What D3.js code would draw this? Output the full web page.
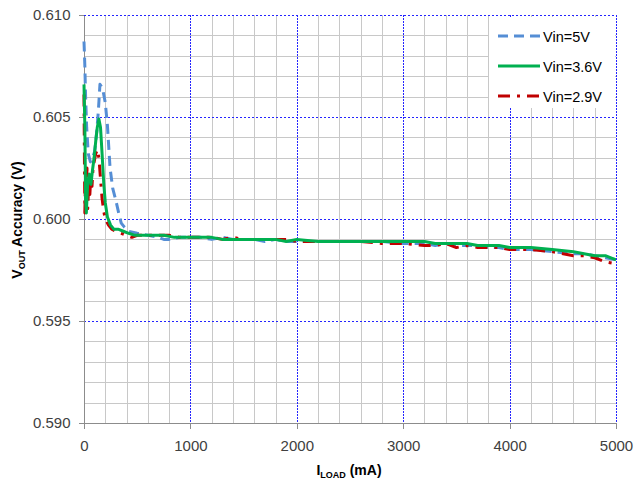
<!DOCTYPE html>
<html><head><meta charset="utf-8">
<script src="https://cdn.jsdelivr.net/npm/d3@7"></script>
<style>body{margin:0;background:#fff}svg{display:block;font-family:"Liberation Sans",Arial,sans-serif}</style>
</head><body><svg id="c" width="634" height="485"></svg>
<script>
// ---- data ----
const seriesNames = ["Vin=5V", "Vin=3.6V", "Vin=2.9V"];
const load5 = [0,8,15,25,40,60,80,100,120,135,150,175,200,220,245,270,300,330,350,380,420,500,600,700,750,800,900,1000,1100,1200,1300,1400,1500,1600,1700,1800,1900,2000,2200,2400,2600,2800,3000,3200,3300,3400,3500,3600,3700,3800,3900,4000,4200,4400,4600,4700,4800,4900,5000];
const vout5 = [0.6087,0.6075,0.6060,0.6045,0.6032,0.6028,0.6030,0.6033,0.6043,0.6053,0.6066,0.6064,0.6057,0.6046,0.6025,0.6015,0.6009,0.6002,0.5998,0.5996,0.5994,0.5993,0.5992,0.5991,0.5990,0.5990,0.5991,0.5991,0.5991,0.5990,0.5991,0.5990,0.5990,0.5990,0.5989,0.5990,0.5989,0.5989,0.5989,0.5989,0.5989,0.5989,0.5988,0.5988,0.5987,0.5988,0.5987,0.5987,0.5987,0.5986,0.5986,0.5985,0.5985,0.5984,0.5983,0.5983,0.5982,0.5981,0.5980];
const load36 = [0,8,15,22,35,50,65,80,95,110,125,140,155,170,185,200,220,250,280,320,370,420,480,550,650,750,850,950,1000,1100,1200,1300,1400,1500,1600,1700,1800,1900,2000,2200,2400,2600,2800,3000,3200,3300,3400,3500,3600,3700,3800,3900,4000,4200,4400,4600,4700,4800,4900,5000];
const vout36 = [0.6066,0.6045,0.6010,0.6003,0.6018,0.6022,0.6017,0.6024,0.6030,0.6038,0.6045,0.6049,0.6045,0.6032,0.6018,0.6008,0.6001,0.5997,0.5995,0.5995,0.5994,0.5993,0.5992,0.5992,0.5992,0.5992,0.5991,0.5991,0.5991,0.5991,0.5991,0.5990,0.5990,0.5990,0.5990,0.5990,0.5990,0.5989,0.5990,0.5989,0.5989,0.5989,0.5989,0.5989,0.5989,0.5988,0.5988,0.5988,0.5988,0.5987,0.5987,0.5987,0.5986,0.5986,0.5985,0.5984,0.5983,0.5982,0.5982,0.5980];
const load29 = [0,4,8,14,20,28,35,45,55,65,75,85,95,110,125,140,155,170,185,200,230,260,300,350,400,450,500,600,700,800,900,1000,1100,1200,1300,1400,1500,1600,1700,1800,1900,2000,2200,2400,2600,2800,3000,3200,3300,3400,3500,3600,3700,3800,3900,4000,4200,4400,4600,4700,4800,4900,5000];
const vout29 = [0.6061,0.6030,0.6003,0.6020,0.6008,0.6025,0.6005,0.6018,0.6012,0.6022,0.6016,0.6025,0.6028,0.6032,0.6034,0.6030,0.6020,0.6010,0.6004,0.6000,0.5997,0.5995,0.5994,0.5993,0.5992,0.5991,0.5992,0.5992,0.5992,0.5992,0.5991,0.5991,0.5991,0.5991,0.5990,0.5991,0.5990,0.5990,0.5990,0.5990,0.5990,0.5989,0.5989,0.5989,0.5989,0.5988,0.5988,0.5987,0.5987,0.5988,0.5986,0.5987,0.5986,0.5986,0.5986,0.5985,0.5985,0.5984,0.5982,0.5982,0.5981,0.5979,0.5978];
const xTicks = [0,1000,2000,3000,4000,5000];
const yTicks = [0.590,0.595,0.600,0.605,0.610];
const colors = ["#558ed5","#00b050","#c00000"];

// ---- layout ----
const svg = d3.select("#c");
const L = 84, T = 15, W = 532, H = 408;
const x = d3.scaleLinear().domain([0,5000]).range([L, L+W]);
const y = d3.scaleLinear().domain([0.590,0.610]).range([T+H, T]);
const majorColor = "#2424ff";

// minor grid
const minorX = d3.range(200, 5000, 200).filter(v => v % 1000 !== 0);
const minorY = d3.range(1, 20).filter(i => i % 5 !== 0).map(i => 0.590 + i*0.001);
svg.append("g").attr("shape-rendering","crispEdges").selectAll("line").data(minorX).join("line")
  .attr("x1", d=>Math.round(x(d))+0.5).attr("x2", d=>Math.round(x(d))+0.5)
  .attr("y1", T).attr("y2", T+H).attr("stroke", "#c8c8c8").attr("stroke-width", 1);
svg.append("g").attr("shape-rendering","crispEdges").selectAll("line").data(minorY).join("line")
  .attr("y1", d=>Math.round(y(d))+0.5).attr("y2", d=>Math.round(y(d))+0.5)
  .attr("x1", L).attr("x2", L+W).attr("stroke", "#c8c8c8").attr("stroke-width", 1);
// major grid (blue dotted)
svg.append("g").attr("shape-rendering","crispEdges").selectAll("line").data(xTicks.slice(1)).join("line")
  .attr("x1", d=>Math.round(x(d))+0.5).attr("x2", d=>Math.round(x(d))+0.5)
  .attr("y1", T).attr("y2", T+H).attr("stroke", majorColor).attr("stroke-dasharray", "2,1");
svg.append("g").attr("shape-rendering","crispEdges").selectAll("line").data(yTicks.slice(1)).join("line")
  .attr("y1", d=>Math.round(y(d))+0.5).attr("y2", d=>Math.round(y(d))+0.5)
  .attr("x1", L).attr("x2", L+W).attr("stroke", majorColor).attr("stroke-dasharray", "2,2");

// axes
const yAxis = d3.axisLeft(y).tickValues(yTicks).tickFormat(d3.format(".3f")).tickSize(6).tickPadding(8);
const xAxis = d3.axisBottom(x).tickValues(xTicks).tickFormat(d3.format("d")).tickSize(5).tickPadding(12);
const gy = svg.append("g").attr("transform", `translate(${L+0.5},0)`).call(yAxis);
const gx = svg.append("g").attr("transform", `translate(0,${T+H+0.5})`).call(xAxis);
[gy, gx].forEach(g => {
  g.select(".domain").attr("stroke", "#8c8c8c").attr("shape-rendering","crispEdges");
  g.selectAll(".tick line").attr("stroke", "#8c8c8c").attr("shape-rendering","crispEdges");
  g.selectAll(".tick text").attr("fill", "#404040").style("font-size", "15px").style("font-family", '"Liberation Sans",Arial,sans-serif');
});
gy.select(".domain").attr("d", `M-6,${T}H0V${T+H}H-6`);
gx.select(".domain").attr("d", `M${L},5V0H${L+W}V5`);

// series
const line = d3.line().x(d=>x(d[0])).y(d=>y(d[1]));
const dash = ["10,6", null, "12,7,3,7"];
const data = [d3.zip(load5,vout5), d3.zip(load36,vout36), d3.zip(load29,vout29)];
[0,2,1].forEach(i => {
  svg.append("path").datum(data[i]).attr("d", line).attr("fill","none")
    .attr("stroke", colors[i]).attr("stroke-width", 3).attr("stroke-linejoin","round")
    .attr("stroke-dasharray", dash[i]);
});

// legend
svg.append("rect").attr("x", 489).attr("y", T+2).attr("width", 126).attr("height", 91).attr("fill", "#fff");
const ly = [36, 66, 96];
const lg = svg.append("g");
seriesNames.forEach((n,i) => {
  lg.append("line").attr("x1", 498).attr("x2", 540).attr("y1", ly[i]).attr("y2", ly[i])
    .attr("stroke", colors[i]).attr("stroke-width", 3).attr("stroke-dasharray", dash[i]);
  lg.append("text").attr("x", 543).attr("y", ly[i]+5.5).text(n)
    .attr("fill", "#000").style("font-size", "14.5px");
});
// plot border top/right (blue dotted)
svg.append("line").attr("shape-rendering","crispEdges").attr("x1", L).attr("x2", L+W).attr("y1", T+0.5).attr("y2", T+0.5).attr("stroke", majorColor).attr("stroke-dasharray", "2,2");
svg.append("line").attr("shape-rendering","crispEdges").attr("x1", L+W+0.5).attr("x2", L+W+0.5).attr("y1", T).attr("y2", T+H).attr("stroke", majorColor).attr("stroke-dasharray", "2,1");

// titles
const xt = svg.append("text").attr("x", 349).attr("y", 475).attr("text-anchor", "middle")
  .style("font-size", "14px").style("font-weight", "bold").attr("fill", "#000");
xt.append("tspan").text("I");
xt.append("tspan").text("LOAD").style("font-size", "9px").attr("dy", 3);
xt.append("tspan").text(" (mA)").attr("dy", -3);
const yt = svg.append("text").attr("transform", "translate(22,220) rotate(-90)").attr("text-anchor", "middle")
  .style("font-size", "14px").style("font-weight", "bold").attr("fill", "#000");
yt.append("tspan").text("V");
yt.append("tspan").text("OUT").style("font-size", "9px").attr("dy", 3);
yt.append("tspan").text(" Accuracy (V)").attr("dy", -3);
</script></body></html>
